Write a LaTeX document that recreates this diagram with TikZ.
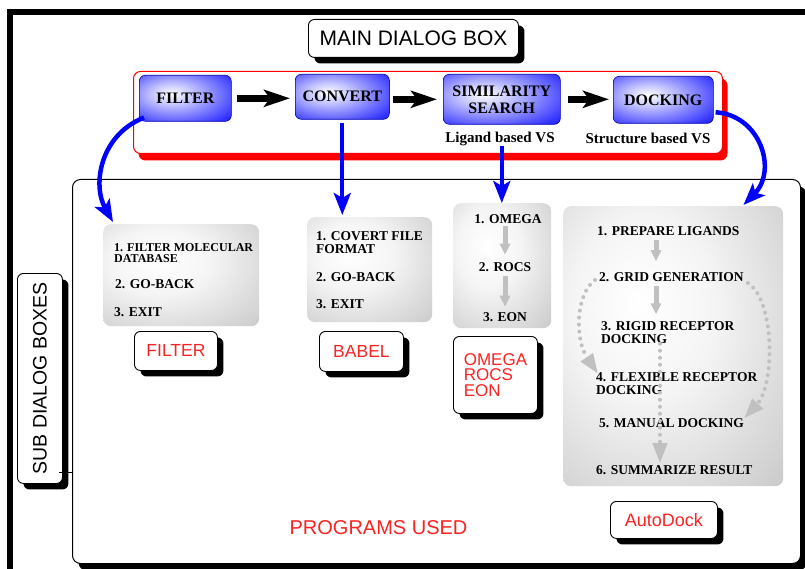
\documentclass[tikz,border=0pt]{standalone}
\usepackage{fontspec}
\setmainfont{Liberation Serif}
\setsansfont{Liberation Sans}
\usetikzlibrary{arrows.meta,shadows}
\definecolor{lblred}{RGB}{250,35,35}
\definecolor{pureblue}{RGB}{0,0,255}
\definecolor{arrgray}{RGB}{192,192,192}
\pgfdeclareradialshading{grayglow}{\pgfpoint{-8bp}{8bp}}{color(0bp)=(white); color(16bp)=(white!96!black); color(38bp)=(black!18); color(48bp)=(black!26); color(100bp)=(black!26)}
\pgfdeclareradialshading{blueglow}{\pgfpoint{-8bp}{5bp}}{color(0bp)=(white); color(10bp)=(white!80!blue); color(36bp)=(blue!80); color(48bp)=(blue!95!black); color(100bp)=(blue!95!black)}
\begin{document}
\begin{tikzpicture}[x=1pt,y=-1pt,
  lbl/.style={draw=black, fill=white, rounded corners=6pt, line width=0.9pt, inner sep=0pt, anchor=north west, text=lblred, align=left,
    font=\sffamily\fontsize{17.5}{17.5}\selectfont,
    drop shadow={shadow xshift=6pt, shadow yshift=-6pt, fill=black, opacity=1}},
  btn/.style={draw=blue!70!black, line width=0.6pt, rounded corners=6pt, shade, shading=blueglow, anchor=north west, inner sep=0pt, align=center,
    font=\fontsize{16}{17}\selectfont\bfseries},
  subbox/.style={rounded corners=8pt, shade, shading=grayglow, anchor=north west, inner sep=0pt},
  itm/.style={font=\fontsize{13.5}{13}\selectfont\bfseries, inner sep=0pt, anchor=west, align=left},
  flow/.style={draw=black, line width=7pt, -{Stealth[length=26pt,width=17pt,inset=6pt]}},
  call/.style={draw=pureblue, line width=4.5pt, -{Stealth[length=22pt,width=17pt,inset=5pt]}},
  garrow/.style={draw=arrgray, line width=5pt, -{Triangle[length=11pt,width=10pt]}},
  gdots/.style={draw=arrgray, line width=4pt, line cap=round, dash pattern=on 0pt off 7pt, -{Triangle[length=20pt,width=14pt]}},
]
\useasboundingbox (0,0) rectangle (805,569);
\clip (0,0) rectangle (805,569);
% outer frame
\draw[line width=6pt] (10,620) -- (10,12) -- (860,12);

% big sub-dialog area
\node[draw=black, line width=1pt, rounded corners=8pt, fill=white, anchor=north west,
  minimum width=728pt, minimum height=384pt, inner sep=0pt,
  drop shadow={shadow xshift=6pt, shadow yshift=-7pt, fill=black, opacity=1}] (big) at (72,179) {};

% red main box
\node[draw=red, line width=1pt, rounded corners=7pt, fill=white, anchor=north west,
  minimum width=589pt, minimum height=82pt, inner sep=0pt,
  drop shadow={shadow xshift=5pt, shadow yshift=-7pt, fill=red, opacity=1}] (redbox) at (133,71) {};

% main dialog label
\node[lbl, text=black, align=center, minimum width=210pt, minimum height=38pt, font=\sffamily\fontsize{21}{21}\selectfont] (main) at (308,19) {MAIN DIALOG BOX};

% buttons
\node[btn, minimum width=92pt, minimum height=46pt] (fbtn) at (139,75) {FILTER};
\node[btn, minimum width=94pt, minimum height=45pt] (cbtn) at (295,74) {CONVERT};
\node[btn, minimum width=117pt, minimum height=50pt] (sbtn) at (443,74) {SIMILARITY\\SEARCH};
\node[btn, minimum width=100pt, minimum height=47pt] (dbtn) at (613,76) {DOCKING};

\node[font=\fontsize{15}{15}\selectfont\bfseries, inner sep=0pt] (lig) at (500,139) {Ligand based VS};
\node[font=\fontsize{15}{15}\selectfont\bfseries, inner sep=0pt] (str) at (648,138) {Structure based VS};

\draw[flow, shorten <=5pt, shorten >=5pt] (fbtn.east) -- (fbtn.east -| cbtn.west);
\draw[flow, shorten <=3pt, shorten >=6pt] (cbtn.east |- sbtn.west) -- (sbtn.west);
\draw[flow, shorten <=7pt, shorten >=4pt] (sbtn.east) -- (dbtn.west |- sbtn.east);

% sub dialog boxes
\node[subbox, minimum width=156pt, minimum height=102pt] (fsub) at (103,224) {};
\node[subbox, minimum width=125pt, minimum height=105pt] (bsub) at (307,217) {};
\node[subbox, minimum width=98pt, minimum height=125pt] (osub) at (453,203) {};
\node[subbox, minimum width=220pt, minimum height=280pt] (dsub) at (563,206) {};

% filter items
\node[itm, font=\fontsize{12}{11}\selectfont\bfseries] (f1) at (114,253.5) {1. FILTER MOLECULAR\\DATABASE};
\node[itm] (f2) at (115,284) {2. GO-BACK};
\node[itm] (f3) at (114,312) {3. EXIT};
% babel items
\node[itm] (b1) at (316,242.5) {1. COVERT FILE\\FORMAT};
\node[itm] (b2) at (316,277) {2. GO-BACK};
\node[itm] (b3) at (316,304) {3. EXIT};
% omega items
\node[itm, anchor=center] (o1) at (508,219) {1. OMEGA};
\node[itm, anchor=center] (o2) at (505,267) {2. ROCS};
\node[itm, anchor=center] (o3) at (505,317) {3. EON};
% docking items
\node[itm] (d1) at (597,231) {1. PREPARE LIGANDS};
\node[itm] (d2) at (599,277) {2. GRID GENERATION};
\node[itm] (d3) at (601,332.5) {3. RIGID RECEPTOR\\DOCKING};
\node[itm] (d4) at (596,383.5) {4. FLEXIBLE RECEPTOR\\DOCKING};
\node[itm] (d5) at (599,423) {5. MANUAL DOCKING};
\node[itm] (d6) at (596,470) {6. SUMMARIZE RESULT};

% gray arrows
\coordinate (axO) at (505,0);
\coordinate (axA) at (656,0);
\coordinate (axB) at (660,0);
\draw[garrow, shorten <=2.5pt, shorten >=7.5pt] (o1.south -| axO) -- (o2.north -| axO);
\draw[garrow, shorten <=4.5pt, shorten >=5.5pt] (o2.south -| axO) -- (o3.north -| axO);
\draw[garrow, shorten <=4pt, shorten >=11pt] (d1.south -| axA) -- (d2.north -| axA);
\draw[garrow, shorten <=4pt, shorten >=7pt] (d2.south -| axA) -- (d3.north -| axA);
\draw[gdots] ([xshift=-4pt,yshift=-3pt]d2.west) .. controls (575,295) and (575,340) .. ([xshift=2pt,yshift=-1.5pt]d4.north west);
\draw[gdots] ([xshift=4pt,yshift=-6pt]d2.east) .. controls (775,300) and (775,385) .. (d5.north east);
\draw[gdots, shorten >=2pt] (d3.south -| axB) -- (d6.north -| axB);

% blue calls
\draw[call] ([xshift=5pt,yshift=4pt]fbtn.south west) .. controls (100,135) and (92,185) .. ([xshift=10pt,yshift=2pt]fsub.north west);
\draw[call, line width=4pt, shorten <=3pt, shorten >=2pt] (cbtn.south) -- (cbtn.south |- bsub.north);
\draw[call, line width=4pt] (lig.south -| sbtn.south) -- (sbtn.south |- osub.north);
\draw[call] ([xshift=2pt,yshift=-12.5pt]dbtn.east) .. controls (760,115) and (778,170) .. ([xshift=-40pt,yshift=1pt]dsub.north east);

% program labels
\node[lbl, align=center, minimum width=83pt, minimum height=39pt] (pfilter) at (134,331) {FILTER};
\node[lbl, align=center, minimum width=84pt, minimum height=40pt] (pbabel) at (319,331) {BABEL};
\node[lbl, minimum width=84pt, minimum height=77pt, font=\sffamily\fontsize{17}{15.5}\selectfont] (pomega) at (453,336) {OMEGA\\ROCS\\EON};
\node[lbl, align=center, minimum width=107pt, minimum height=37pt, font=\sffamily\fontsize{18}{18}\selectfont] (pauto) at (610,501) {AutoDock};

\node[font=\sffamily\fontsize{20}{20}\selectfont, text=lblred, inner sep=0pt] (prog) at (378.5,528) {PROGRAMS USED};

% sub dialog boxes label
\node[lbl, minimum width=45pt, minimum height=210pt] (sub) at (17,273) {};
\node[rotate=90, font=\sffamily\fontsize{19.5}{19.5}\selectfont, inner sep=0pt] (subtxt) at (sub.center) {SUB DIALOG BOXES};
\coordinate (tickpt) at (0,472);
\draw[line width=1pt] ([xshift=-4pt]sub.east |- tickpt) -- (big.west |- tickpt);
\end{tikzpicture}
\end{document}
